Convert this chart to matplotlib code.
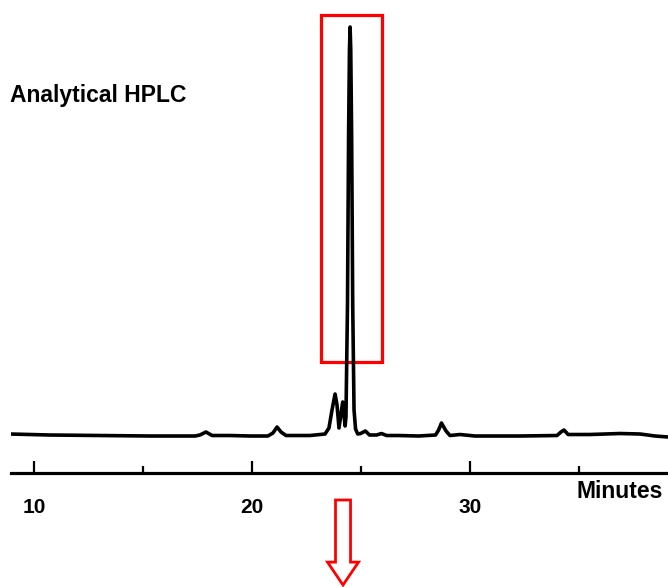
import matplotlib
matplotlib.use("Agg")
import matplotlib.pyplot as plt
import matplotlib.patches as mpatches

plt.rcParams['font.family'] = ['Liberation Sans', 'DejaVu Sans']

# chromatogram trace (time in minutes, signal above baseline)
time_min = [8.90, 10.73, 13.03, 15.32, 17.39, 17.61, 17.89, 18.17, 18.99, 19.91,
            20.73, 20.96, 21.15, 21.33, 21.56, 22.66, 23.35, 23.53, 23.67, 23.81,
            23.90, 23.99, 24.16, 24.27, 24.31, 24.38, 24.43, 24.47, 24.50, 24.53,
            24.57, 24.62, 24.68, 24.75, 24.85, 24.98, 25.20, 25.39, 25.71, 25.94,
            26.17, 26.72, 27.64, 28.42, 28.56, 28.69, 28.90, 29.08, 29.54, 30.23,
            32.29, 33.99, 34.17, 34.31, 34.50, 35.50, 36.88, 37.80, 38.49, 39.08]
signal = [1, 0, -0.5, -1, -1, 0, 3, -0.5, -0.5, -1,
          -1, 2, 8, 3, -0.5, -0.5, 1, 7, 25, 41,
          30, 7, 33, 9, 18, 130, 300, 385, 408, 385,
          300, 130, 25, 6, 1, 1.5, 4, 0, 0, 1.5,
          -0.5, -0.5, -1, 0, 5, 12, 4, -0.5, 0.5, -1,
          -1, -0.5, 3, 5, 0.5, 0.5, 1.5, 1, -1, -2]

major_ticks = [10, 20, 30]
minor_ticks = [15, 25, 35]
box_time = (23.17, 25.96)
box_signal = (73, 420)

fig = plt.figure(figsize=(6.68, 5.87), dpi=100)
ax = fig.add_axes([0.0159, 0.1947, 0.9841, 0.8053])

ax.plot(time_min, signal, color='black', lw=2.6, solid_joinstyle='round')

ax.set_xlim(8.93, 39.08)
ax.set_ylim(-37.7, 435)

for s in ['top', 'right', 'left']:
    ax.spines[s].set_visible(False)
ax.spines['bottom'].set_linewidth(2.3)
ax.set_yticks([])
ax.set_xticks(major_ticks)
ax.set_xticks(minor_ticks, minor=True)
ax.set_xticklabels([str(t) for t in major_ticks], fontsize=15, fontweight='bold')
ax.tick_params(axis='x', which='major', direction='in', length=9, width=1.6, pad=18)
ax.tick_params(axis='x', which='minor', direction='in', length=5, width=1.6)

# red box round the main peak
rect = mpatches.Rectangle((box_time[0], box_signal[0]), box_time[1] - box_time[0],
                          box_signal[1] - box_signal[0], fill=False,
                          edgecolor='red', lw=2.3, clip_on=False)
ax.add_patch(rect)

fig.text(0.015, 0.838, 'Analytical HPLC', fontsize=16.5, fontweight='bold',
         va='center', ha='left')
fig.text(0.992, 0.1635, 'Minutes', fontsize=16.5, fontweight='bold',
         va='center', ha='right')

arrow = mpatches.FancyArrow(0.5135, 0.1482, 0, -0.1448, width=0.0225,
                            head_width=0.0464, head_length=0.039,
                            length_includes_head=True, facecolor='white',
                            edgecolor='red', lw=2, transform=fig.transFigure)
fig.patches.append(arrow)

fig.savefig('out.png', dpi=100)
